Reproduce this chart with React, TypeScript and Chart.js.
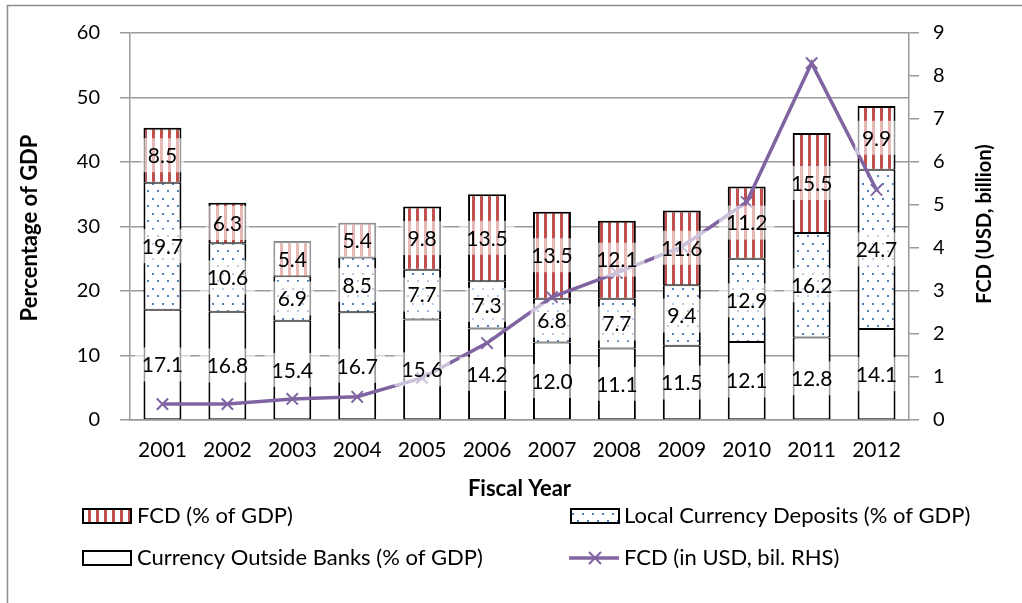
import React, { useEffect, useRef } from "react";
import { Chart, registerables } from "chart.js";

Chart.register(...registerables);

const years = ["2001", "2002", "2003", "2004", "2005", "2006", "2007", "2008", "2009", "2010", "2011", "2012"];
const currencyOutside = [17.1, 16.8, 15.4, 16.7, 15.6, 14.2, 12.0, 11.1, 11.5, 12.1, 12.8, 14.1];
const localDeposits = [19.7, 10.6, 6.9, 8.5, 7.7, 7.3, 6.8, 7.7, 9.4, 12.9, 16.2, 24.7];
const fcdPct = [8.5, 6.3, 5.4, 5.4, 9.8, 13.5, 13.5, 12.1, 11.6, 11.2, 15.5, 9.9];
const fcdUsd = [0.37, 0.37, 0.49, 0.54, 0.98, 1.79, 2.86, 3.42, 4.03, 5.07, 8.3, 5.35];
const leftTicks = [0, 10, 20, 30, 40, 50, 60];
const rightTicks = [0, 1, 2, 3, 4, 5, 6, 7, 8, 9];

const FONT = "Lato";
const GRID = "#9a9a9a";
const PURPLE = "#8064A2";
const RED = "#C0504D";
const BLUE = "#4F81BD";

function stripePattern(ctx: CanvasRenderingContext2D) {
  const c = document.createElement("canvas");
  c.width = 8;
  c.height = 8;
  const g = c.getContext("2d")!;
  g.fillStyle = "#ffffff";
  g.fillRect(0, 0, 8, 8);
  g.fillStyle = RED;
  g.fillRect(0, 0, 3, 8);
  return ctx.createPattern(c, "repeat")!;
}

function dotPattern(ctx: CanvasRenderingContext2D) {
  const c = document.createElement("canvas");
  c.width = 10;
  c.height = 15;
  const g = c.getContext("2d")!;
  g.fillStyle = "#ffffff";
  g.fillRect(0, 0, 10, 15);
  g.fillStyle = BLUE;
  g.fillRect(2, 3, 2, 2);
  g.fillRect(7, 10, 2, 2);
  return ctx.createPattern(c, "repeat")!;
}

export default function App() {
  const ref = useRef<HTMLCanvasElement | null>(null);

  useEffect(() => {
    const canvas = ref.current!;
    const ctx0 = canvas.getContext("2d")!;
    const stripes = stripePattern(ctx0);
    const dots = dotPattern(ctx0);

    const decor = {
      id: "decor",
      beforeDraw(chart: any) {
        const ctx = chart.ctx;
        ctx.save();
        ctx.strokeStyle = "#8c8c8c";
        ctx.lineWidth = 1.5;
        ctx.strokeRect(7.5, 5.5, 1200, 800);
        ctx.restore();
      },
      afterDatasetsDraw(chart: any) {
        const ctx = chart.ctx;
        ctx.save();
        ctx.font = `21px ${FONT}`;
        ctx.textAlign = "center";
        ctx.textBaseline = "middle";
        [0, 1, 2].forEach((di) => {
          const meta = chart.getDatasetMeta(di);
          meta.data.forEach((el: any, i: number) => {
            const v = chart.data.datasets[di].data[i] as number;
            const p = el.getProps(["x", "y", "base"], true);
            const cy = (p.y + p.base) / 2;
            const t = v.toFixed(1);
            const w = ctx.measureText(t).width + 14;
            ctx.fillStyle = "rgba(255,255,255,0.6)";
            ctx.fillRect(p.x - w / 2, cy - 17, w, 34);
            ctx.fillStyle = "#000";
            ctx.fillText(t, p.x, cy + 1);
          });
        });
        ctx.restore();
      },
      afterDraw(chart: any) {
        const ctx = chart.ctx;
        const area = chart.chartArea;
        ctx.save();
        ctx.fillStyle = "#000";
        ctx.textAlign = "center";
        ctx.textBaseline = "middle";
        ctx.font = `bold 22px ${FONT}`;
        ctx.fillText("Fiscal Year", (area.left + area.right) / 2, 489);
        ctx.save();
        ctx.translate(30, 228);
        ctx.rotate(-Math.PI / 2);
        ctx.fillText("Percentage of GDP", 0, 0);
        ctx.restore();
        ctx.font = `bold 20px ${FONT}`;
        ctx.save();
        ctx.translate(985, 224);
        ctx.rotate(-Math.PI / 2);
        ctx.fillText("FCD (USD, billion)", 0, 0);
        ctx.restore();

        // legend
        ctx.font = `22px ${FONT}`;
        ctx.textAlign = "left";
        const box = (x: number, y: number, fill: any) => {
          ctx.fillStyle = fill;
          ctx.fillRect(x, y, 48, 14);
          ctx.strokeStyle = "#000";
          ctx.lineWidth = 2;
          ctx.strokeRect(x, y, 48, 14);
        };
        box(83, 509, stripes);
        box(571, 509, dots);
        box(83, 551, "#ffffff");
        ctx.fillStyle = "#000";
        ctx.fillText(chart.data.datasets[2].label, 137, 516);
        ctx.fillText(chart.data.datasets[1].label, 624, 516);
        ctx.fillText(chart.data.datasets[0].label, 137, 558);
        ctx.fillText(chart.data.datasets[3].label, 624, 558);
        ctx.strokeStyle = PURPLE;
        ctx.lineWidth = 3.5;
        ctx.beginPath();
        ctx.moveTo(569, 558);
        ctx.lineTo(619, 558);
        ctx.stroke();
        ctx.lineWidth = 2;
        ctx.beginPath();
        ctx.moveTo(589, 552);
        ctx.lineTo(601, 564);
        ctx.moveTo(601, 552);
        ctx.lineTo(589, 564);
        ctx.stroke();
        ctx.restore();
      },
    };

    const tickFont = { family: FONT, size: 20 };
    const chart = new Chart(canvas, {
      type: "bar",
      data: {
        labels: years,
        datasets: [
          {
            label: "Currency Outside Banks (% of GDP)",
            data: currencyOutside,
            backgroundColor: "#ffffff",
            borderColor: "#000",
            borderWidth: { top: 1, bottom: 1, left: 2, right: 2 },
            borderSkipped: false,
            order: 1,
            stack: "s",
          } as any,
          {
            label: "Local Currency Deposits (% of GDP)",
            data: localDeposits,
            backgroundColor: dots,
            borderColor: "#000",
            borderWidth: { top: 1, bottom: 1, left: 2, right: 2 },
            borderSkipped: false,
            order: 1,
            stack: "s",
          },
          {
            label: "FCD (% of GDP)",
            data: fcdPct,
            backgroundColor: stripes,
            borderColor: "#000",
            borderWidth: { top: 2, bottom: 1, left: 2, right: 2 },
            borderSkipped: false,
            order: 1,
            stack: "s",
          },
          {
            type: "line",
            label: "FCD (in USD, bil. RHS)",
            data: fcdUsd,
            yAxisID: "y1",
            order: 0,
            borderColor: PURPLE,
            borderWidth: 3.5,
            pointStyle: "crossRot",
            pointRadius: 8,
            pointBorderWidth: 2,
            pointBorderColor: PURPLE,
            pointBackgroundColor: PURPLE,
            tension: 0,
            fill: false,
          } as any,
        ],
      },
      options: {
        animation: false,
        responsive: false,
        devicePixelRatio: 1,
        layout: { padding: { top: 33, left: 0, right: 0, bottom: 0 } },
        plugins: { legend: { display: false }, tooltip: { enabled: false } },
        datasets: { bar: { barPercentage: 0.585, categoryPercentage: 1 } },
        scales: {
          x: {
            stacked: true,
            grid: { display: false, drawTicks: false },
            border: { color: GRID, width: 1.5 },
            ticks: { color: "#000", font: { family: FONT, size: 21 }, padding: 18, maxRotation: 0 },
            afterFit(s: any) {
              s.height = 183;
            },
          },
          y: {
            stacked: true,
            position: "left",
            min: 0,
            max: 60,
            afterBuildTicks(s: any) {
              s.ticks = leftTicks.map((v) => ({ value: v }));
            },
            ticks: { color: "#000", font: tickFont, padding: 20 },
            grid: { color: GRID, lineWidth: 1.5, tickLength: 10 },
            border: { color: GRID, width: 1.5 },
            afterFit(s: any) {
              s.width = 130;
            },
          },
          y1: {
            position: "right",
            min: 0,
            max: 9,
            afterBuildTicks(s: any) {
              s.ticks = rightTicks.map((v) => ({ value: v }));
            },
            ticks: { color: "#000", font: tickFont, padding: 14 },
            grid: { drawOnChartArea: false, color: GRID, lineWidth: 1.5, tickLength: 10 },
            border: { color: GRID, width: 1.5 },
            afterFit(s: any) {
              s.width = 113;
            },
          },
        },
      } as any,
      plugins: [decor],
    });
    return () => chart.destroy();
  }, []);

  return (
    <div style={{ position: "fixed", left: 0, top: 0, width: 1022, height: 603, background: "#fff" }}>
      <canvas ref={ref} width={1022} height={603} style={{ display: "block", width: 1022, height: 603 }} />
    </div>
  );
}
